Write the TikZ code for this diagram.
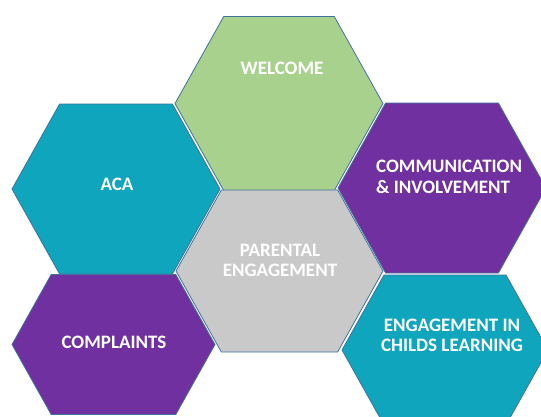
\documentclass[tikz,border=0pt]{standalone}
\usepackage{fontspec}
\setmainfont{Carlito}
\usepackage{tikz}

\definecolor{hexgreen}{HTML}{A9D18E}
\definecolor{hexteal}{HTML}{0FA6BD}
\definecolor{hexpurple}{HTML}{7030A0}
\definecolor{hexgray}{HTML}{C9C9C9}
\definecolor{hexline}{HTML}{41719C}

% name, x, y, half width, half height, colour
\newcommand{\hexcell}[6]{%
	\coordinate (#1) at (#2,#3);
	\filldraw[shift={(#1)}, fill=#6, draw=hexline, line width=0.8pt]
		(-#4,0) -- (-#4+0.56*#5,-#5) -- (#4-0.56*#5,-#5) -- (#4,0)
		-- (#4-0.56*#5,#5) -- (-#4+0.56*#5,#5) -- cycle;
}

\begin{document}
\begin{tikzpicture}[x=1pt, y=-1pt,
	hextext/.style={text=white, font=\bfseries\fontsize{19}{20.5}\selectfont, align=center, inner sep=0pt}]
	\useasboundingbox (0,0) rectangle (541,416);
	\clip (0,0) rectangle (541,416);

	\hexcell{welcome}{279}{103.5}{104}{87}{hexgreen}
	\hexcell{aca}{116}{189}{104}{85}{hexteal}
	\hexcell{comm}{442}{188}{104}{85}{hexpurple}
	\hexcell{parental}{279.5}{271}{103.5}{81}{hexgray}
	\hexcell{complaints}{113.5}{344.5}{101.5}{70}{hexpurple}
	\hexcell{childs}{445}{350}{103}{75}{hexteal}

	\node[hextext] (welcometext) at (282,68.5) {WELCOME};
	\node[hextext] (acatext) at (117,184.5) {ACA};
	\node[hextext, align=left, anchor=west] (commtext) at (376,177) {COMMUNICATION\\\& INVOLVEMENT};
	\node[hextext] (parentaltext) at (280,260.5) {PARENTAL\\ENGAGEMENT};
	\node[hextext] (complaintstext) at (114,342.5) {COMPLAINTS};
	\node[hextext] (childstext) at (452,335.5) {ENGAGEMENT IN\\CHILDS LEARNING};
\end{tikzpicture}
\end{document}
